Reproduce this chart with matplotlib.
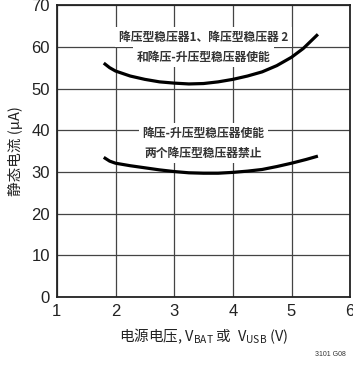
import matplotlib
matplotlib.use('Agg')
import matplotlib.pyplot as plt
from matplotlib import font_manager

# Données
x_haut = [1.8, 1.9, 2.0, 2.25, 2.5, 2.75, 3.0, 3.25, 3.5, 3.75, 4.0, 4.25, 4.5, 4.75, 5.0, 5.2, 5.45]
y_haut = [56.1, 55.0, 54.2, 53.0, 52.2, 51.6, 51.3, 51.1, 51.2, 51.6, 52.2, 53.0, 54.0, 55.5, 57.5, 59.6, 63.0]

x_bas = [1.8, 1.9, 2.0, 2.25, 2.5, 2.75, 3.0, 3.25, 3.5, 3.75, 4.0, 4.25, 4.5, 4.75, 5.0, 5.25, 5.45]
y_bas = [33.5, 32.6, 32.1, 31.5, 31.0, 30.5, 30.1, 29.8, 29.7, 29.7, 29.9, 30.2, 30.6, 31.3, 32.1, 33.0, 33.8]

xticks = [1, 2, 3, 4, 5, 6]
yticks = [0, 10, 20, 30, 40, 50, 60, 70]

texte_haut = ['降压型稳压器1、降压型稳压器 2', '和降压-升压型稳压器使能']
texte_bas = ['降压-升压型稳压器使能', '两个降压型稳压器禁止']

noms = {f.name for f in font_manager.fontManager.ttflist}
latin = 'Liberation Sans Narrow' if 'Liberation Sans Narrow' in noms else 'Liberation Sans'
cjk = ['Noto Sans CJK SC', 'DejaVu Sans']
plt.rcParams['font.family'] = [latin, 'Noto Sans CJK SC', 'DejaVu Sans']
plt.rcParams['mathtext.fontset'] = 'custom'
plt.rcParams['mathtext.rm'] = 'Noto Sans CJK SC'

fig = plt.figure(figsize=(3.53, 3.65), dpi=100)
ax = fig.add_axes([0.161, 0.186, 0.831, 0.8])

ax.set_xlim(1, 6)
ax.set_ylim(0, 70)
ax.set_xticks(xticks)
ax.set_yticks(yticks)
ax.tick_params(length=0, labelsize=12, colors='#222222', pad=5)
ax.grid(True, color='#444444', linewidth=0.9)
ax.set_axisbelow(True)
for s in ax.spines.values():
    s.set_linewidth(1.3)
    s.set_color('#222222')

ax.plot(x_haut, y_haut, color='black', linewidth=2.3, solid_capstyle='butt', zorder=3)
ax.plot(x_bas, y_bas, color='black', linewidth=2.3, solid_capstyle='butt', zorder=3)

# Textes sur fond blanc qui masquent la grille
boite = dict(facecolor='white', edgecolor='none', pad=2.5)
for ligne, yy in zip(texte_haut, [62.3, 57.5]):
    ax.text(3.5, yy, ligne, ha='center', va='center', fontsize=8.5, color='#333333',
            family=cjk, weight='bold', bbox=boite, zorder=2)
for ligne, yy in zip(texte_bas, [39.3, 34.5]):
    ax.text(3.5, yy, ligne, ha='center', va='center', fontsize=8.5, color='#333333',
            family=cjk, weight='bold', bbox=boite, zorder=2)

ax.set_ylabel('静态电流 (µA)', fontsize=10.5, color='#222222', labelpad=6, family=cjk)
ax.set_xlabel(r'电源电压, V$_{\rm BAT}$ 或  V$_{\rm USB}$ (V)', fontsize=10.5, color='#222222',
              labelpad=5, family=cjk)

fig.text(0.935, 0.025, '3101 G08', fontsize=5, ha='center', color='#333333')

fig.savefig('out.png', dpi=100)
